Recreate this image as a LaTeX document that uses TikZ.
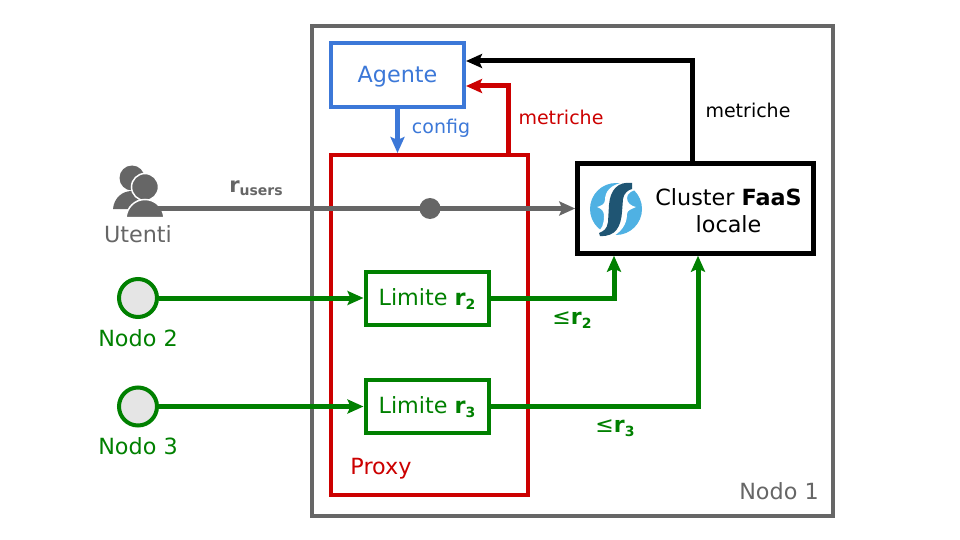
\documentclass[tikz,border=0pt]{standalone}
\usepackage{fontspec}
\setmainfont{DejaVu Sans}
\usetikzlibrary{arrows.meta}
\definecolor{nodegray}{HTML}{666666}
\definecolor{proxyred}{HTML}{CC0000}
\definecolor{agentblue}{HTML}{3C78D8}
\definecolor{limitgreen}{HTML}{008000}
\definecolor{logoblue}{HTML}{4FB1E3}
\definecolor{logodark}{HTML}{1F5573}
\newcommand{\ratesub}[1]{\raisebox{-3.5pt}{\fontsize{14}{14}\selectfont\bfseries #1}}
\newcommand{\fs}[1]{\fontsize{#1}{#1}\selectfont}
\tikzset{
  box/.style={draw,rectangle,line width=4pt,inner sep=0pt,fill=white,align=center,font=\fs{22}},
  limitbox/.style={box,draw=limitgreen,text=limitgreen,minimum width=123pt,minimum height=53pt},
  peer/.style={draw=limitgreen,circle,line width=4pt,fill=black!10,minimum size=38pt,inner sep=0pt},
  txt/.style={inner sep=0pt,align=center,font=\fs{22.3}},
  small/.style={inner sep=0pt,font=\fs{19}},
  wire/.style={line width=5pt,-{Stealth[length=16pt,width=14pt,inset=3pt]}},
  greenwire/.style={wire,draw=limitgreen},
}
\begin{document}
\begin{tikzpicture}[x=1pt,y=-1pt]
\useasboundingbox (0,0) rectangle (960,540);
\node[draw=nodegray,line width=4pt,minimum width=521pt,minimum height=490pt,inner sep=0pt] (nodo1) at (572.5,271) {};
\node[box,draw=proxyred,minimum width=197pt,minimum height=340pt] (proxy) at (429.5,325) {};
\node[box,draw=agentblue,minimum width=133pt,minimum height=64pt] (agente) at (397.5,75) {};
\node[txt,text=agentblue] (agentelabel) at (397.5,76.5) {Agente};
\node[box,draw=black,line width=4.5pt,minimum width=236pt,minimum height=90pt] (cluster) at (695.5,208.5) {};
\node[limitbox] (limite2) at (427,298) {};
\node[limitbox] (limite3) at (427,406.5) {};
\node[txt,text=limitgreen] (limite2label) at (427,299) {Limite \textbf{r}\ratesub{2}};
\node[txt,text=limitgreen] (limite3label) at (427,407) {Limite \textbf{r}\ratesub{3}};
\node[peer] (nodo2) at (138,298) {};
\node[peer] (nodo3) at (138,406.5) {};
\node[txt,text=limitgreen] (nodo2label) at (138,338) {Nodo 2};
\node[txt,text=limitgreen] (nodo3label) at (138,446) {Nodo 3};
\node[txt,text=nodegray] (utenti) at (138,234) {Utenti};
\node[txt,text=nodegray] (nodo1label) at (779,491) {Nodo 1};
\node[txt,text=proxyred] (proxylabel) at (381,469) {Proxy};
\node[small,text=agentblue] (config) at (441,128) {config};
\node[small,text=proxyred] (metricheproxy) at (561,117) {metriche};
\node[small] (metrichecluster) at (748,110) {metriche};
\node[txt] (clusterlabel) at (728.5,211) {Cluster \textbf{FaaS}\\[5pt]locale};
\node[small,text=nodegray,font=\fs{21}\bfseries] (rusers) at (256,188) {r\ratesub{users}};
\node[small,text=limitgreen,font=\fs{22}] (cap2) at (572,320) {≤\textbf{r}\ratesub{2}};
\node[small,text=limitgreen,font=\fs{22}] (cap3) at (615,428) {≤\textbf{r}\ratesub{3}};
% utenti
\fill[nodegray] (132,178) circle (12.5);
\fill[nodegray] (113,209) .. controls (114,198) and (122,191) .. (132,191) .. controls (142,191) and (150,198) .. (151,209) -- cycle;
\fill[nodegray,draw=white,line width=1.5pt] (145,187) circle (13.5);
\fill[nodegray,draw=white,line width=1.5pt] (126,217.5) .. controls (127,207) and (135,199.5) .. (145,199.5) .. controls (155,199.5) and (163,207) .. (164,217.5) -- cycle;
% logo
\fill[logoblue] (616,209) circle (26);
\fill[white] (626,182) .. controls (610,184) and (605,192) .. (605,200) .. controls (605,204) and (601,206) .. (597,207) .. controls (602,209) and (604,211) .. (604,216) .. controls (604,224) and (602,230) .. (596,233) -- (612,237) .. controls (625,230) and (627,220) .. (627,214) .. controls (627,210) and (632,209) .. (636,207) .. controls (631,206) and (627,203) .. (627,198) .. controls (627,193) and (632,190) .. (640,189) -- (637,182) -- cycle;
\fill[logodark] (632,183) .. controls (618,181) and (610,190) .. (609,205) -- (608,222) .. controls (607,229) and (604,231) .. (599,233) -- (600,236) .. controls (616,237) and (621,226) .. (622,212) -- (623,199) .. controls (624,193) and (628,190) .. (632,189) -- cycle;
% connettori
\coordinate (usersout) at (158,208.5);
\draw[wire,draw=nodegray] (usersout) -- (cluster.west);
\node[circle,fill=nodegray,minimum size=21pt,inner sep=0pt] (gate) at (430,208.5) {};
\draw[wire,draw=agentblue] (agente.south) -- (agente.south |- proxy.north);
\draw[wire,draw=proxyred] ([xshift=78.5pt]proxy.north) |- ([yshift=-11pt]agente.east);
\draw[wire,draw=black] ([xshift=-3.5pt]cluster.north) |- ([yshift=14pt]agente.east);
\draw[greenwire] (nodo2) -- (limite2);
\draw[greenwire] (nodo3) -- (limite3);
\draw[greenwire] (limite2) -| ([xshift=-81.5pt]cluster.south);
\draw[greenwire] (limite3) -| ([xshift=2.5pt]cluster.south);
\end{tikzpicture}
\end{document}
